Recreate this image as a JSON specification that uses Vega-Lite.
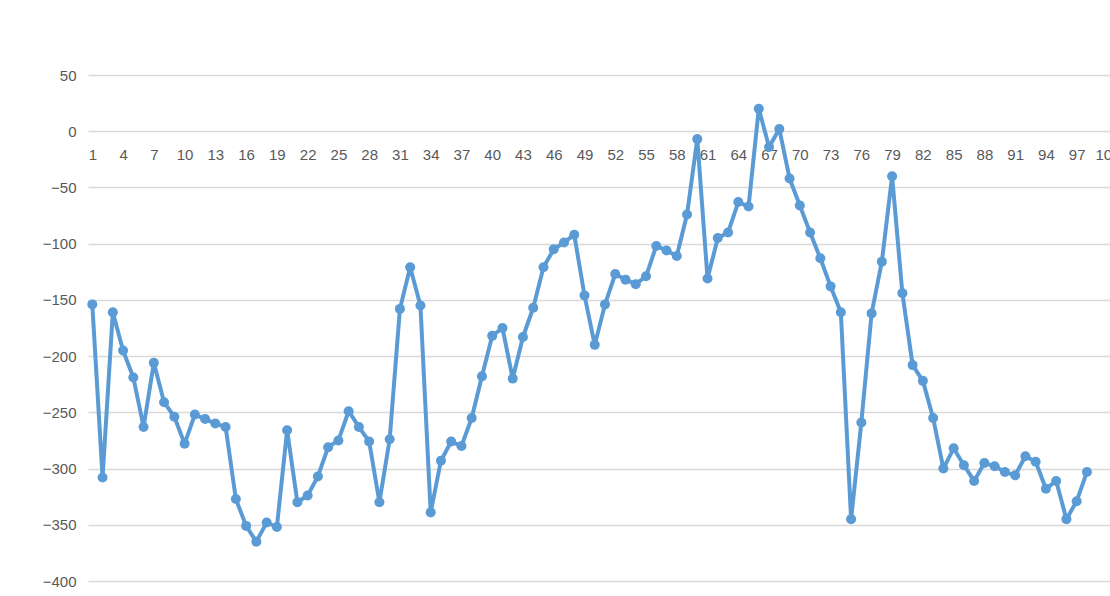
{
  "$schema": "https://vega.github.io/schema/vega-lite/v6.json",
  "autosize": {"type": "none"},
  "padding": {"left": 88, "top": 75, "right": 0, "bottom": 15},
  "width": 1022,
  "height": 506,
  "background": "white",
  "config": {"view": {"stroke": null}, "font": "Liberation Sans"},
  "data": {"values": [
    {"i":1,"v":-154},{"i":2,"v":-308},{"i":3,"v":-161},{"i":4,"v":-195},{"i":5,"v":-219},
    {"i":6,"v":-263},{"i":7,"v":-206},{"i":8,"v":-241},{"i":9,"v":-254},{"i":10,"v":-278},
    {"i":11,"v":-252},{"i":12,"v":-256},{"i":13,"v":-260},{"i":14,"v":-263},{"i":15,"v":-327},
    {"i":16,"v":-351},{"i":17,"v":-365},{"i":18,"v":-348},{"i":19,"v":-352},{"i":20,"v":-266},
    {"i":21,"v":-330},{"i":22,"v":-324},{"i":23,"v":-307},{"i":24,"v":-281},{"i":25,"v":-275},
    {"i":26,"v":-249},{"i":27,"v":-263},{"i":28,"v":-276},{"i":29,"v":-330},{"i":30,"v":-274},
    {"i":31,"v":-158},{"i":32,"v":-121},{"i":33,"v":-155},{"i":34,"v":-339},{"i":35,"v":-293},
    {"i":36,"v":-276},{"i":37,"v":-280},{"i":38,"v":-255},{"i":39,"v":-218},{"i":40,"v":-182},
    {"i":41,"v":-175},{"i":42,"v":-220},{"i":43,"v":-183},{"i":44,"v":-157},{"i":45,"v":-121},
    {"i":46,"v":-105},{"i":47,"v":-99},{"i":48,"v":-92},{"i":49,"v":-146},{"i":50,"v":-190},
    {"i":51,"v":-154},{"i":52,"v":-127},{"i":53,"v":-132},{"i":54,"v":-136},{"i":55,"v":-129},
    {"i":56,"v":-102},{"i":57,"v":-106},{"i":58,"v":-111},{"i":59,"v":-74},{"i":60,"v":-7},
    {"i":61,"v":-131},{"i":62,"v":-95},{"i":63,"v":-90},{"i":64,"v":-63},{"i":65,"v":-67},
    {"i":66,"v":20},{"i":67,"v":-14},{"i":68,"v":2},{"i":69,"v":-42},{"i":70,"v":-66},
    {"i":71,"v":-90},{"i":72,"v":-113},{"i":73,"v":-138},{"i":74,"v":-161},{"i":75,"v":-345},
    {"i":76,"v":-259},{"i":77,"v":-162},{"i":78,"v":-116},{"i":79,"v":-40},{"i":80,"v":-144},
    {"i":81,"v":-208},{"i":82,"v":-222},{"i":83,"v":-255},{"i":84,"v":-300},{"i":85,"v":-282},
    {"i":86,"v":-297},{"i":87,"v":-311},{"i":88,"v":-295},{"i":89,"v":-298},{"i":90,"v":-303},
    {"i":91,"v":-306},{"i":92,"v":-289},{"i":93,"v":-294},{"i":94,"v":-318},{"i":95,"v":-311},
    {"i":96,"v":-345},{"i":97,"v":-329},{"i":98,"v":-303}
  ]},
  "mark": {
    "type": "line",
    "color": "#5B9BD5",
    "strokeWidth": 4,
    "strokeJoin": "round",
    "strokeCap": "round",
    "point": {"filled": true, "size": 100, "color": "#5B9BD5"}
  },
  "encoding": {
    "x": {
      "field": "i",
      "type": "quantitative",
      "scale": {"domain": [0.58, 100.25], "nice": false, "zero": false},
      "axis": {
        "title": null,
        "values": [1,4,7,10,13,16,19,22,25,28,31,34,37,40,43,46,49,52,55,58,61,64,67,70,73,76,79,82,85,88,91,94,97,100],
        "offset": -450,
        "domain": false,
        "ticks": false,
        "tickSize": 0,
        "grid": false,
        "labelFlush": false,
        "labelOverlap": false,
        "labelPadding": 16,
        "labelFontSize": 15,
        "labelColor": "#595959",
        "labelFont": "Liberation Sans"
      }
    },
    "y": {
      "field": "v",
      "type": "quantitative",
      "scale": {"domain": [-400, 50], "nice": false, "zero": false},
      "axis": {
        "title": null,
        "values": [-400,-350,-300,-250,-200,-150,-100,-50,0,50],
        "domain": false,
        "ticks": false,
        "tickSize": 0,
        "gridColor": "#D9D9D9",
        "gridWidth": 1.3,
        "labelPadding": 12,
        "labelFontSize": 15,
        "labelColor": "#595959",
        "labelFont": "Liberation Sans"
      }
    }
  }
}
